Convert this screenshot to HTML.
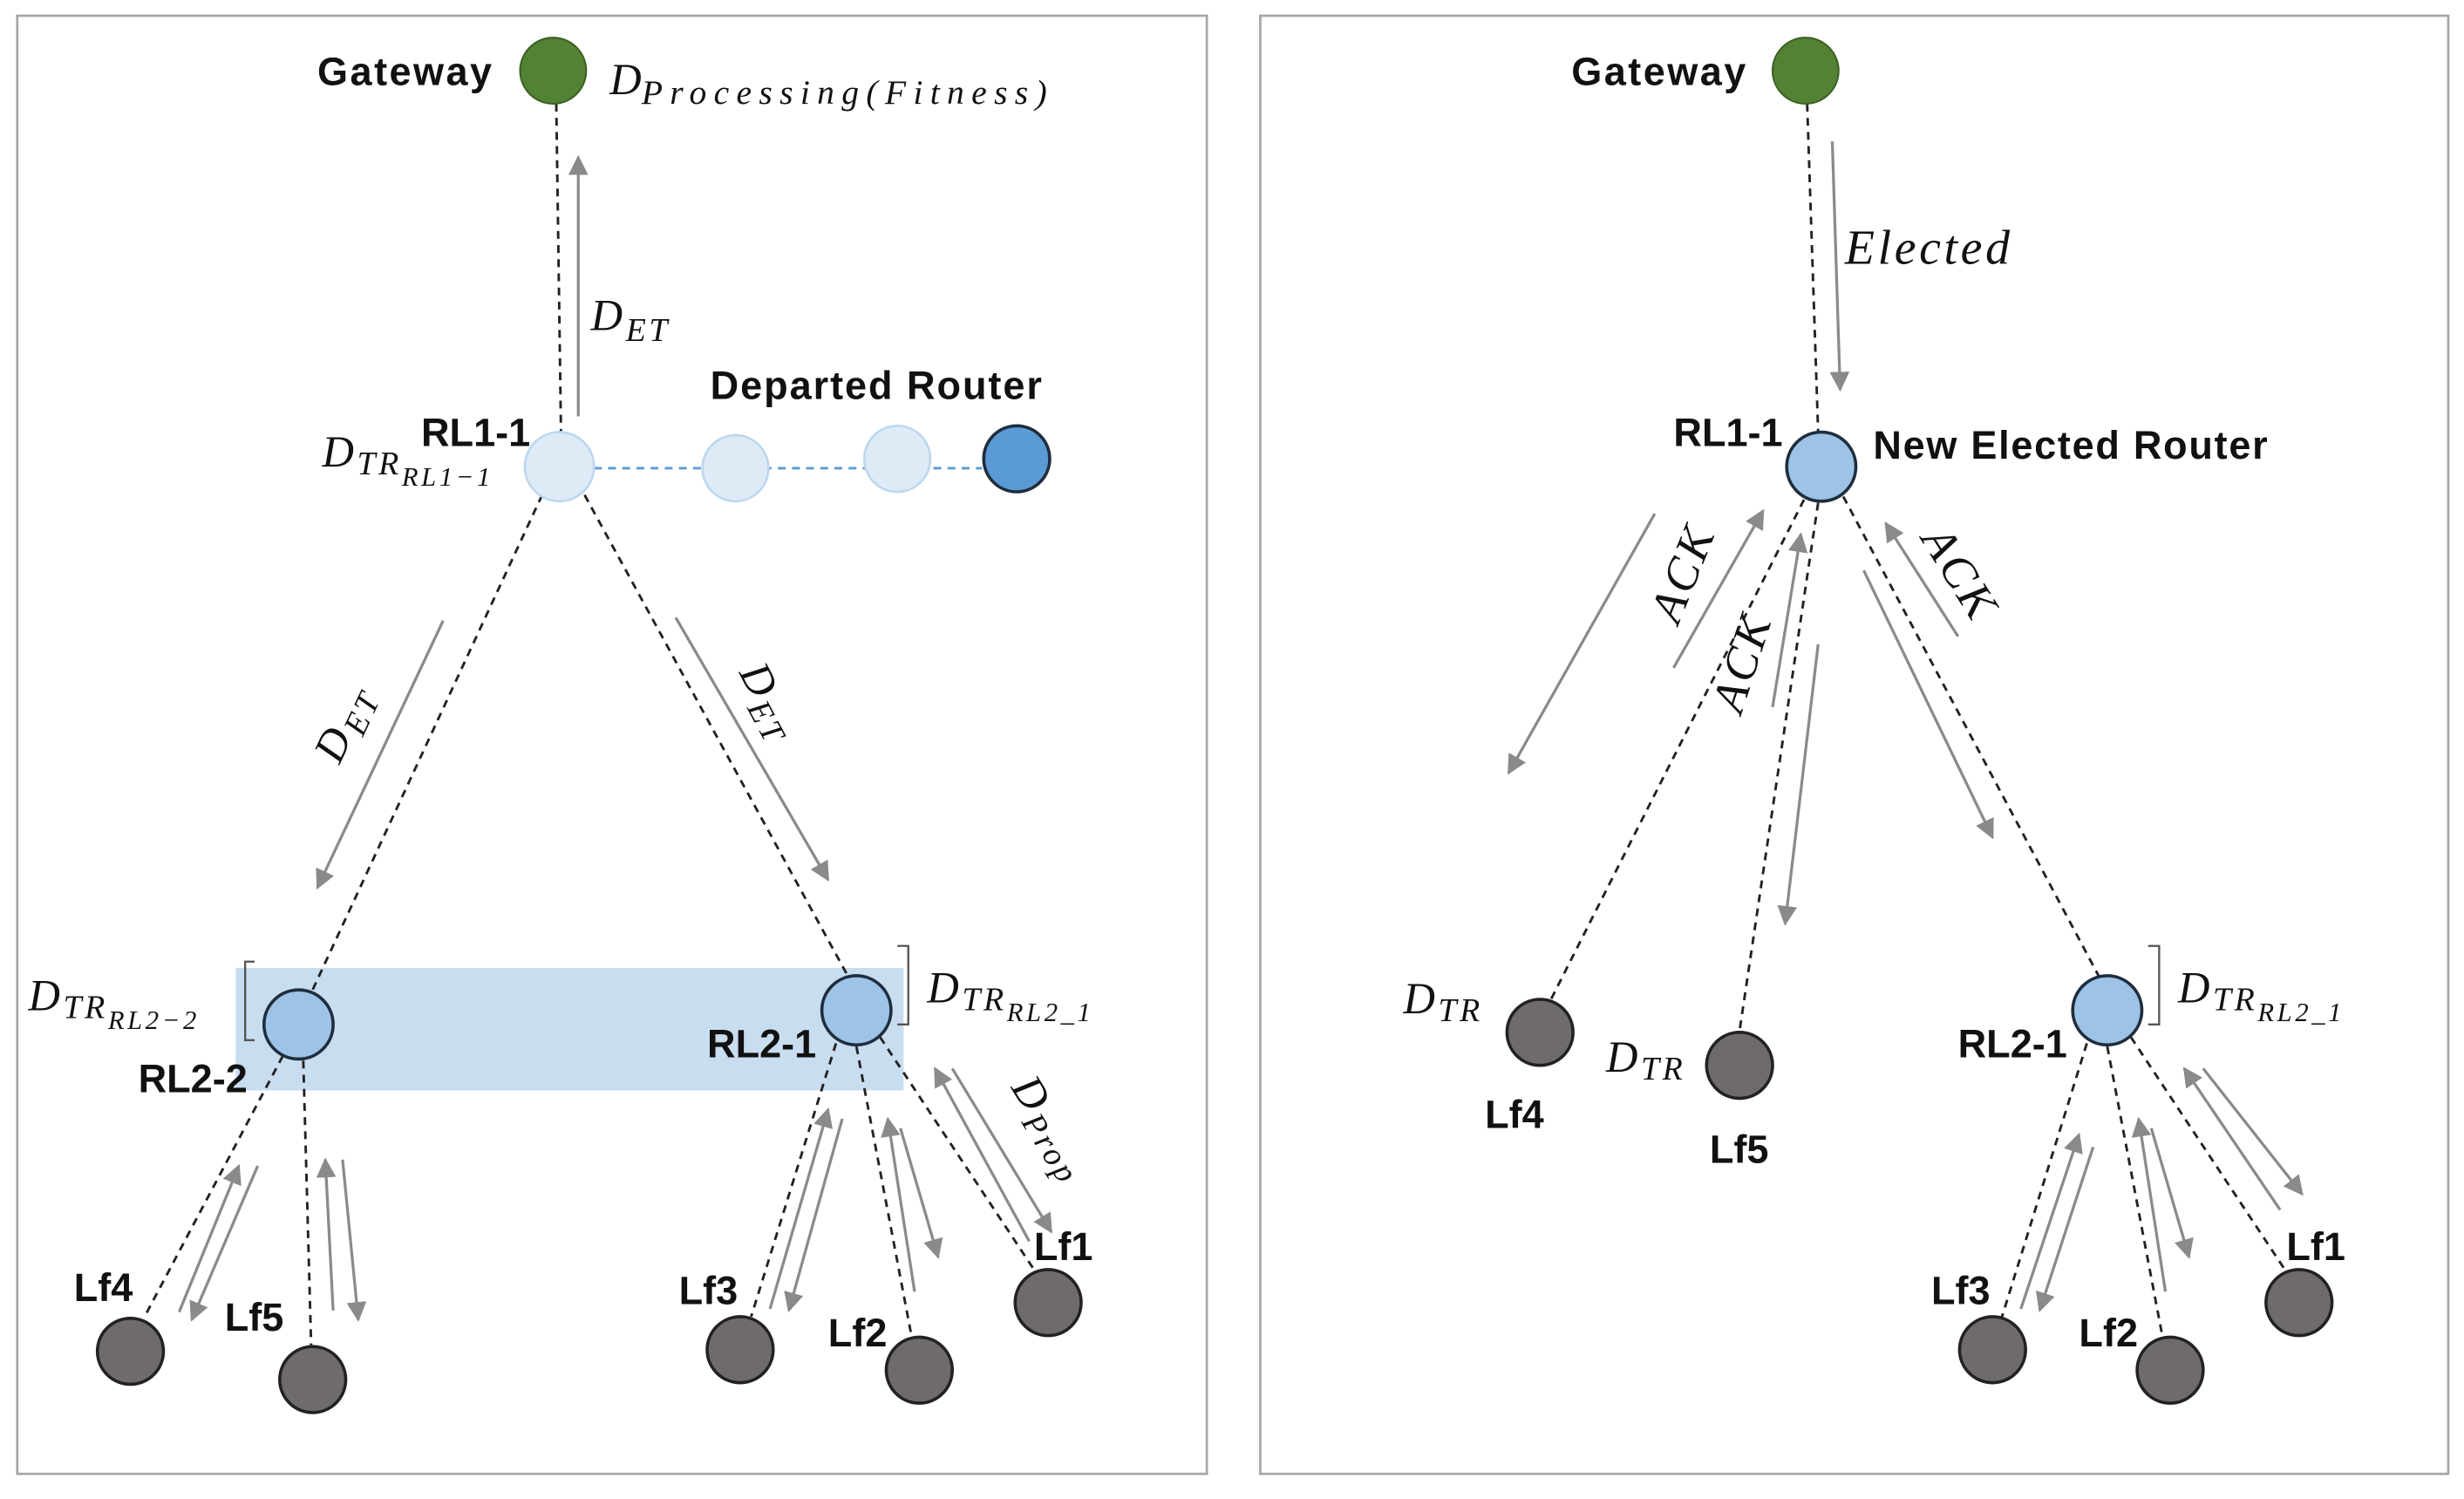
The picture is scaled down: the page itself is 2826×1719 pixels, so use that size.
<!DOCTYPE html>
<html><head><meta charset="utf-8"><style>
html,body{margin:0;padding:0;background:#fff;}
svg{display:block;}
.lb{font-family:"Liberation Sans",sans-serif;font-weight:bold;font-size:25px;fill:#111;}
.m{font-family:"Liberation Serif",serif;font-style:italic;fill:#111;}
.s{letter-spacing:2px;}
</style></head><body>
<svg width="2826" height="1719" viewBox="0 0 1568 954" preserveAspectRatio="none" xmlns="http://www.w3.org/2000/svg">
<defs>
<marker id="a" viewBox="0 0 10 10" refX="9" refY="5" markerWidth="7" markerHeight="7" orient="auto"><path d="M0,0 L10,5 L0,10 z" fill="#8a8a8a"/></marker>
</defs>
<rect x="11" y="10" width="757" height="928" fill="none" stroke="#a6a6a6" stroke-width="1.5"/>
<rect x="802" y="10" width="756" height="928" fill="none" stroke="#a6a6a6" stroke-width="1.5"/>

<!-- LEFT PANEL -->
<rect x="150" y="616" width="425" height="78" fill="#c9ddf0"/>
<g stroke="#222" stroke-width="1.6" stroke-dasharray="5,4" fill="none">
<line x1="354" y1="66" x2="357" y2="275"/>
<line x1="345" y1="315" x2="198" y2="632"/>
<line x1="372" y1="315" x2="540" y2="622"/>
<line x1="180" y1="672" x2="92" y2="838"/>
<line x1="193" y1="675" x2="198" y2="856"/>
<line x1="532" y1="664" x2="478" y2="838"/>
<line x1="545" y1="666" x2="580" y2="850"/>
<line x1="560" y1="660" x2="658" y2="808"/>
</g>
<line x1="378" y1="298" x2="625" y2="298" stroke="#5b9bd5" stroke-width="1.6" stroke-dasharray="5,4"/>
<g stroke="#8a8a8a" stroke-width="1.8" fill="none" marker-end="url(#a)">
<line x1="368" y1="265" x2="368" y2="100"/>
<line x1="282" y1="395" x2="202" y2="565"/>
<line x1="430" y1="393" x2="527" y2="560"/>
<line x1="114" y1="835" x2="152" y2="742"/>
<line x1="164" y1="742" x2="122" y2="840"/>
<line x1="212" y1="834" x2="207" y2="738"/>
<line x1="218" y1="738" x2="228" y2="840"/>
<line x1="490" y1="833" x2="527" y2="706"/>
<line x1="536" y1="712" x2="502" y2="834"/>
<line x1="582" y1="822" x2="565" y2="712"/>
<line x1="573" y1="718" x2="597" y2="800"/>
<line x1="655" y1="790" x2="595" y2="680"/>
<line x1="606" y1="680" x2="669" y2="784"/>
</g>
<path d="M162,612 L156,612 L156,662 L162,662" fill="none" stroke="#555" stroke-width="1.3"/>
<path d="M571,602 L578,602 L578,652 L571,652" fill="none" stroke="#555" stroke-width="1.3"/>
<circle cx="352" cy="45" r="21" fill="#548235" stroke="#3d6126" stroke-width="1.2"/>
<circle cx="356" cy="297" r="22" fill="#deebf7" stroke="#bdd7ee" stroke-width="1.5"/>
<circle cx="468" cy="298" r="21" fill="#deebf7" stroke="#bdd7ee" stroke-width="1.5"/>
<circle cx="571" cy="292" r="21" fill="#deebf7" stroke="#bdd7ee" stroke-width="1.5"/>
<circle cx="647" cy="292" r="21" fill="#5b9bd5" stroke="#1f2d3d" stroke-width="2"/>
<g fill="#9dc3e6" stroke="#1f2d3d" stroke-width="2">
<circle cx="190" cy="652" r="22"/><circle cx="545" cy="643" r="22"/>
</g>
<g fill="#6f6b6b" stroke="#222" stroke-width="2">
<circle cx="83" cy="860" r="21"/><circle cx="199" cy="878" r="21"/>
<circle cx="471" cy="859" r="21"/><circle cx="585" cy="872" r="21"/><circle cx="667" cy="829" r="21"/>
</g>
<text class="lb" x="202" y="54" textLength="111">Gateway</text>
<text class="m" x="388" y="60" font-size="28">D<tspan font-size="22" dy="6" textLength="258">Processing(Fitness)</tspan></text>
<text class="m s" x="376" y="210" font-size="28">D<tspan font-size="21" dy="7">ET</tspan></text>
<text class="lb" x="452" y="254" textLength="211">Departed Router</text>
<text class="lb" x="268" y="284">RL1-1</text>
<text class="m s" x="205" y="297" font-size="28">D<tspan font-size="21" dy="5">TR</tspan><tspan font-size="17" dy="7">RL1−1</tspan></text>
<text class="m s" font-size="28" transform="translate(216,487) rotate(-65)">D<tspan font-size="21" dy="6">ET</tspan></text>
<text class="m s" font-size="28" transform="translate(470,428) rotate(62)">D<tspan font-size="21" dy="6">ET</tspan></text>
<text class="m s" x="18" y="643" font-size="28">D<tspan font-size="21" dy="5">TR</tspan><tspan font-size="17" dy="7">RL2−2</tspan></text>
<text class="m s" x="590" y="638" font-size="28">D<tspan font-size="21" dy="5">TR</tspan><tspan font-size="17" dy="7">RL2_1</tspan></text>
<text class="lb" x="88" y="695">RL2-2</text>
<text class="lb" x="450" y="673">RL2-1</text>
<text class="m s" font-size="28" transform="translate(643,692) rotate(58)">D<tspan font-size="21" dy="6">Prop</tspan></text>
<text class="lb" x="47" y="828">Lf4</text>
<text class="lb" x="143" y="847">Lf5</text>
<text class="lb" x="432" y="830">Lf3</text>
<text class="lb" x="527" y="857">Lf2</text>
<text class="lb" x="658" y="802">Lf1</text>

<!-- RIGHT PANEL -->
<g stroke="#222" stroke-width="1.6" stroke-dasharray="5,4" fill="none">
<line x1="1150" y1="66" x2="1157" y2="275"/>
<line x1="1148" y1="318" x2="987" y2="636"/>
<line x1="1157" y1="320" x2="1107" y2="656"/>
<line x1="1173" y1="316" x2="1336" y2="622"/>
<line x1="1328" y1="664" x2="1274" y2="838"/>
<line x1="1341" y1="666" x2="1376" y2="850"/>
<line x1="1356" y1="660" x2="1454" y2="808"/>
</g>
<g stroke="#8a8a8a" stroke-width="1.8" fill="none" marker-end="url(#a)">
<line x1="1166" y1="90" x2="1171" y2="248"/>
<line x1="1053" y1="327" x2="960" y2="492"/>
<line x1="1065" y1="425" x2="1122" y2="325"/>
<line x1="1128" y1="450" x2="1146" y2="340"/>
<line x1="1157" y1="410" x2="1136" y2="588"/>
<line x1="1186" y1="363" x2="1268" y2="533"/>
<line x1="1246" y1="405" x2="1200" y2="333"/>
<line x1="1286" y1="833" x2="1323" y2="722"/>
<line x1="1332" y1="730" x2="1298" y2="834"/>
<line x1="1378" y1="822" x2="1361" y2="712"/>
<line x1="1369" y1="718" x2="1393" y2="800"/>
<line x1="1451" y1="770" x2="1390" y2="680"/>
<line x1="1402" y1="680" x2="1465" y2="760"/>
</g>
<path d="M1367,602 L1374,602 L1374,652 L1367,652" fill="none" stroke="#555" stroke-width="1.3"/>
<circle cx="1149" cy="45" r="21" fill="#548235" stroke="#3d6126" stroke-width="1.2"/>
<g fill="#9dc3e6" stroke="#1f2d3d" stroke-width="2">
<circle cx="1159" cy="297" r="22"/><circle cx="1341" cy="643" r="22"/>
</g>
<g fill="#6f6b6b" stroke="#222" stroke-width="2">
<circle cx="980" cy="657" r="21"/><circle cx="1107" cy="678" r="21"/>
<circle cx="1268" cy="859" r="21"/><circle cx="1381" cy="872" r="21"/><circle cx="1463" cy="829" r="21"/>
</g>
<text class="lb" x="1000" y="54" textLength="111">Gateway</text>
<text class="m s" x="1174" y="168" font-size="31">Elected</text>
<text class="lb" x="1065" y="284">RL1-1</text>
<text class="lb" x="1192" y="292" textLength="251">New Elected Router</text>
<text class="m s" font-size="30" transform="translate(1068,398) rotate(-68)">ACK</text>
<text class="m s" font-size="30" transform="translate(1108,455) rotate(-72)">ACK</text>
<text class="m s" font-size="30" transform="translate(1222,343) rotate(58)">ACK</text>
<text class="m s" x="893" y="645" font-size="28">D<tspan font-size="21" dy="5">TR</tspan></text>
<text class="m s" x="1022" y="682" font-size="28">D<tspan font-size="21" dy="5">TR</tspan></text>
<text class="m s" x="1386" y="638" font-size="28">D<tspan font-size="21" dy="5">TR</tspan><tspan font-size="17" dy="7">RL2_1</tspan></text>
<text class="lb" x="945" y="718">Lf4</text>
<text class="lb" x="1088" y="740">Lf5</text>
<text class="lb" x="1246" y="673">RL2-1</text>
<text class="lb" x="1229" y="830">Lf3</text>
<text class="lb" x="1323" y="857">Lf2</text>
<text class="lb" x="1455" y="802">Lf1</text>
</svg>
</body></html>
